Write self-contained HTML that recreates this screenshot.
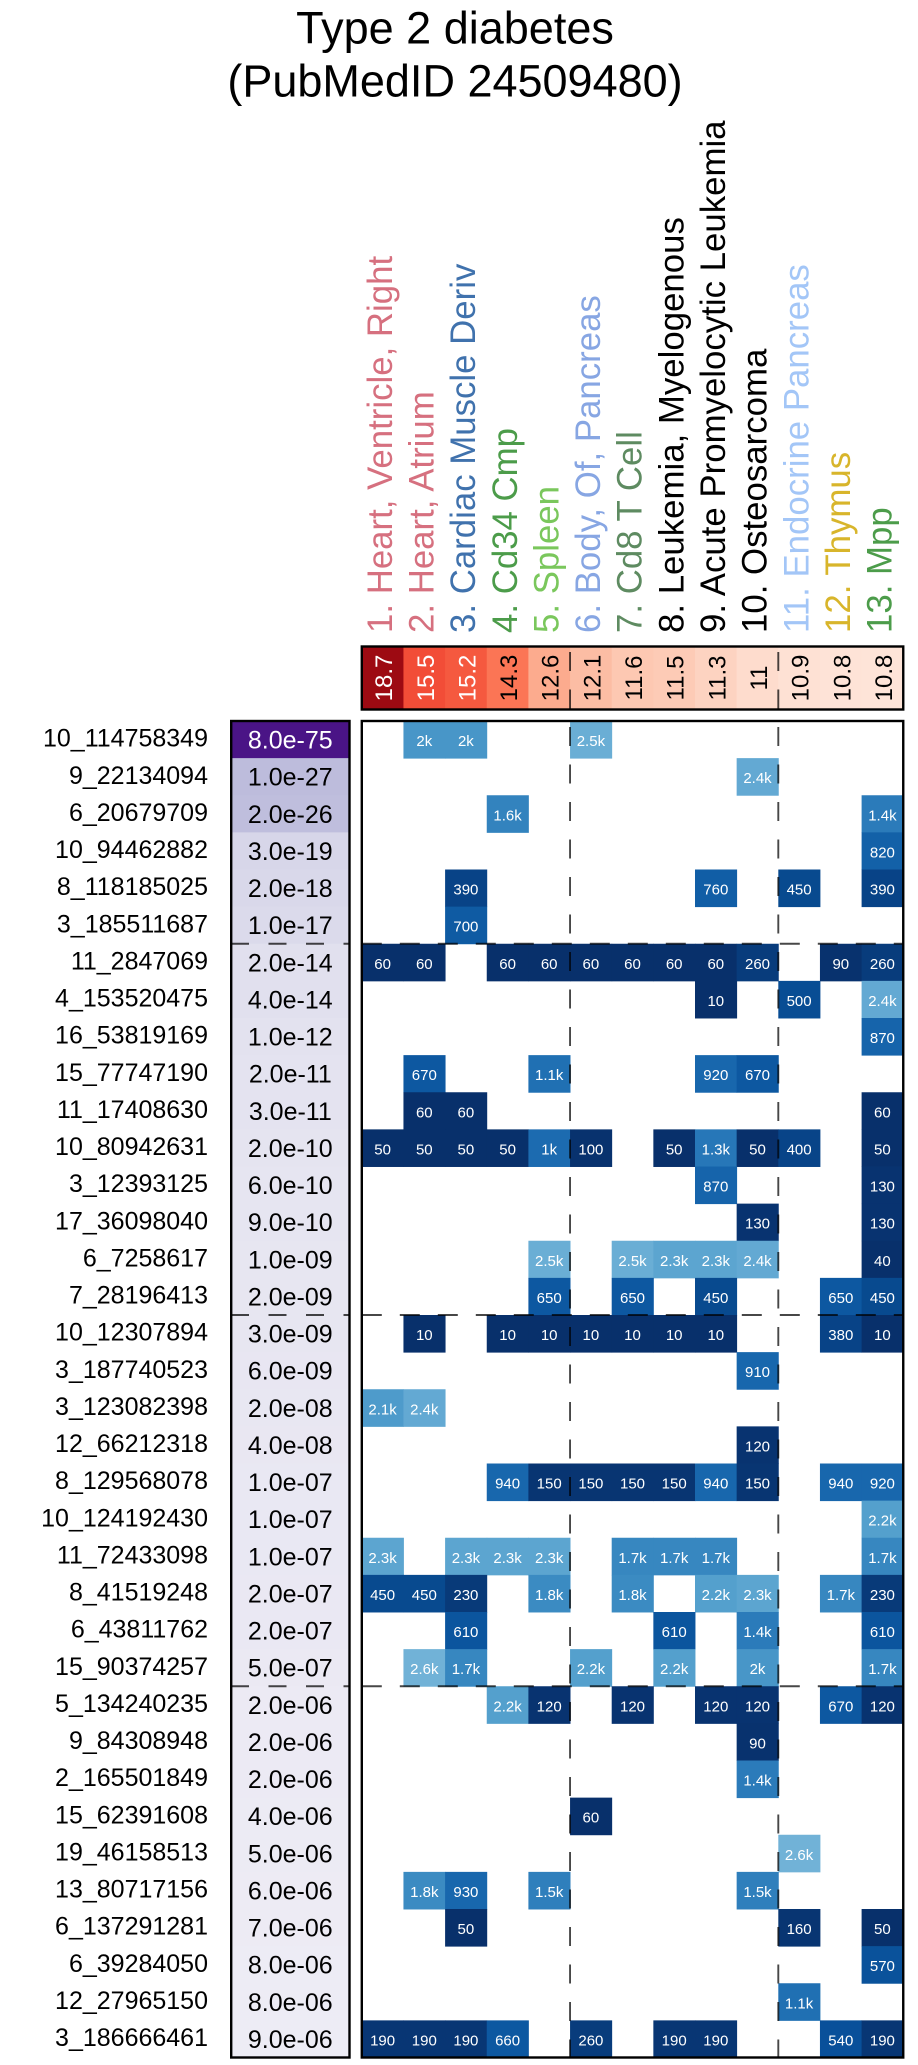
<!DOCTYPE html>
<html><head><meta charset="utf-8"><style>
html,body{margin:0;padding:0;background:#fff;}
svg{display:block;font-family:"Liberation Sans",Arial,sans-serif;}
.rl{font-size:25px;text-anchor:end;fill:#000;}
.pv{font-size:25px;text-anchor:middle;fill:#000;}
.cv{font-size:15px;text-anchor:middle;fill:#fff;}
.hv{font-size:24px;text-anchor:middle;}
.lb{font-size:34.8px;text-anchor:start;}
.tt{font-size:45px;text-anchor:middle;fill:#000;}
</style></head><body>
<svg width="918" height="2065" viewBox="0 0 918 2065" xmlns="http://www.w3.org/2000/svg">
<text class="tt" x="455" y="43.3">Type 2 diabetes</text>
<text class="tt" x="455" y="96.5">(PubMedID 24509480)</text>

<!-- column labels -->
<text class="lb" fill="#d6707f" transform="translate(391.8,633) rotate(-90)">1. Heart, Ventricle, Right</text>
<text class="lb" fill="#d6707f" transform="translate(433.5,633) rotate(-90)">2. Heart, Atrium</text>
<text class="lb" fill="#4072ad" transform="translate(475.1,633) rotate(-90)">3. Cardiac Muscle Deriv</text>
<text class="lb" fill="#4c9c4a" transform="translate(516.8,633) rotate(-90)">4. Cd34 Cmp</text>
<text class="lb" fill="#7ac75c" transform="translate(558.4,633) rotate(-90)">5. Spleen</text>
<text class="lb" fill="#87a6e3" transform="translate(600.1,633) rotate(-90)">6. Body, Of, Pancreas</text>
<text class="lb" fill="#5e8b61" transform="translate(641.7,633) rotate(-90)">7. Cd8 T Cell</text>
<text class="lb" fill="#000" transform="translate(683.4,633) rotate(-90)">8. Leukemia, Myelogenous</text>
<text class="lb" fill="#000" transform="translate(725,633) rotate(-90)">9. Acute Promyelocytic Leukemia</text>
<text class="lb" fill="#000" transform="translate(766.7,633) rotate(-90)">10. Osteosarcoma</text>
<text class="lb" fill="#a3c6f7" transform="translate(808.3,633) rotate(-90)">11. Endocrine Pancreas</text>
<text class="lb" fill="#d8b52b" transform="translate(850,633) rotate(-90)">12. Thymus</text>
<text class="lb" fill="#4c9c4a" transform="translate(891.6,633) rotate(-90)">13. Mpp</text>

<!-- header cells -->
<g transform="translate(0,646.5)">
<rect x="361.8" width="42.1" height="63" fill="#9d0a12"/>
<rect x="403.45" width="42.1" height="63" fill="#f24d37"/>
<rect x="445.1" width="42.1" height="63" fill="#f5593f"/>
<rect x="486.75" width="42.1" height="63" fill="#fb7555"/>
<rect x="528.4" width="42.1" height="63" fill="#fcab8e"/>
<rect x="570.05" width="42.1" height="63" fill="#fcbda4"/>
<rect x="611.7" width="42.1" height="63" fill="#fdc8b2"/>
<rect x="653.35" width="42.1" height="63" fill="#fdcbb6"/>
<rect x="695" width="42.1" height="63" fill="#fdd3c1"/>
<rect x="736.65" width="42.1" height="63" fill="#fedccd"/>
<rect x="778.3" width="42.1" height="63" fill="#fee1d4"/>
<rect x="819.95" width="42.1" height="63" fill="#fee3d7"/>
<rect x="861.6" width="41.65" height="63" fill="#fee4d8"/>
</g>
<text class="hv" fill="#fff" transform="translate(392.1,678) rotate(-90)">18.7</text>
<text class="hv" fill="#fff" transform="translate(433.8,678) rotate(-90)">15.5</text>
<text class="hv" fill="#fff" transform="translate(475.4,678) rotate(-90)">15.2</text>
<text class="hv" fill="#000" transform="translate(517.1,678) rotate(-90)">14.3</text>
<text class="hv" fill="#000" transform="translate(558.7,678) rotate(-90)">12.6</text>
<text class="hv" fill="#000" transform="translate(600.4,678) rotate(-90)">12.1</text>
<text class="hv" fill="#000" transform="translate(642,678) rotate(-90)">11.6</text>
<text class="hv" fill="#000" transform="translate(683.7,678) rotate(-90)">11.5</text>
<text class="hv" fill="#000" transform="translate(725.3,678) rotate(-90)">11.3</text>
<text class="hv" fill="#000" transform="translate(767,678) rotate(-90)">11</text>
<text class="hv" fill="#000" transform="translate(808.6,678) rotate(-90)">10.9</text>
<text class="hv" fill="#000" transform="translate(850.3,678) rotate(-90)">10.8</text>
<text class="hv" fill="#000" transform="translate(891.9,678) rotate(-90)">10.8</text>

<!-- rows -->
<g transform="translate(0,721)">
<text class="rl" x="208" y="25.7">10_114758349</text>
<rect x="231.2" width="118.3" height="37.6" fill="#4a1486"/><text class="pv" x="290.3" y="27.5" style="fill:#fff">8.0e-75</text>
<rect x="403.45" width="42.1" height="37.6" fill="#4896c8"/><text class="cv" x="424.3" y="25">2k</text>
<rect x="445.1" width="42.1" height="37.6" fill="#4896c8"/><text class="cv" x="465.9" y="25">2k</text>
<rect x="570.05" width="42.1" height="37.6" fill="#6aaed5"/><text class="cv" x="590.9" y="25">2.5k</text>
</g>
<g transform="translate(0,758.125)">
<text class="rl" x="208" y="25.7">9_22134094</text>
<rect x="231.2" width="118.3" height="37.6" fill="#bdbcdc"/><text class="pv" x="290.3" y="27.5">1.0e-27</text>
<rect x="736.65" width="42.1" height="37.6" fill="#63a9d3"/><text class="cv" x="757.5" y="25">2.4k</text>
</g>
<g transform="translate(0,795.25)">
<text class="rl" x="208" y="25.7">6_20679709</text>
<rect x="231.2" width="118.3" height="37.6" fill="#bfbedd"/><text class="pv" x="290.3" y="27.5">2.0e-26</text>
<rect x="486.75" width="42.1" height="37.6" fill="#3383be"/><text class="cv" x="507.6" y="25">1.6k</text>
<rect x="861.6" width="42.1" height="37.6" fill="#2b7bba"/><text class="cv" x="882.4" y="25">1.4k</text>
</g>
<g transform="translate(0,832.375)">
<text class="rl" x="208" y="25.7">10_94462882</text>
<rect x="231.2" width="118.3" height="37.6" fill="#d7d6e9"/><text class="pv" x="290.3" y="27.5">3.0e-19</text>
<rect x="861.6" width="42.1" height="37.6" fill="#1361a8"/><text class="cv" x="882.4" y="25">820</text>
</g>
<g transform="translate(0,869.5)">
<text class="rl" x="208" y="25.7">8_118185025</text>
<rect x="231.2" width="118.3" height="37.6" fill="#d9d8ea"/><text class="pv" x="290.3" y="27.5">2.0e-18</text>
<rect x="445.1" width="42.1" height="37.6" fill="#084387"/><text class="cv" x="465.9" y="25">390</text>
<rect x="695" width="42.1" height="37.6" fill="#115ea6"/><text class="cv" x="715.8" y="25">760</text>
<rect x="778.3" width="42.1" height="37.6" fill="#084a8f"/><text class="cv" x="799.1" y="25">450</text>
<rect x="861.6" width="42.1" height="37.6" fill="#084387"/><text class="cv" x="882.4" y="25">390</text>
</g>
<g transform="translate(0,906.625)">
<text class="rl" x="208" y="25.7">3_185511687</text>
<rect x="231.2" width="118.3" height="37.6" fill="#dbdaeb"/><text class="pv" x="290.3" y="27.5">1.0e-17</text>
<rect x="445.1" width="42.1" height="37.6" fill="#0f5ba3"/><text class="cv" x="465.9" y="25">700</text>
</g>
<g transform="translate(0,943.75)">
<text class="rl" x="208" y="25.7">11_2847069</text>
<rect x="231.2" width="118.3" height="37.6" fill="#e1e0ee"/><text class="pv" x="290.3" y="27.5">2.0e-14</text>
<rect x="361.8" width="42.1" height="37.6" fill="#08306b"/><text class="cv" x="382.6" y="25">60</text>
<rect x="403.45" width="42.1" height="37.6" fill="#08306b"/><text class="cv" x="424.3" y="25">60</text>
<rect x="486.75" width="42.1" height="37.6" fill="#08306b"/><text class="cv" x="507.6" y="25">60</text>
<rect x="528.4" width="42.1" height="37.6" fill="#08306b"/><text class="cv" x="549.2" y="25">60</text>
<rect x="570.05" width="42.1" height="37.6" fill="#08306b"/><text class="cv" x="590.9" y="25">60</text>
<rect x="611.7" width="42.1" height="37.6" fill="#08306b"/><text class="cv" x="632.5" y="25">60</text>
<rect x="653.35" width="42.1" height="37.6" fill="#08306b"/><text class="cv" x="674.2" y="25">60</text>
<rect x="695" width="42.1" height="37.6" fill="#08306b"/><text class="cv" x="715.8" y="25">60</text>
<rect x="736.65" width="42.1" height="37.6" fill="#083c7c"/><text class="cv" x="757.5" y="25">260</text>
<rect x="819.95" width="42.1" height="37.6" fill="#08326e"/><text class="cv" x="840.8" y="25">90</text>
<rect x="861.6" width="42.1" height="37.6" fill="#083c7c"/><text class="cv" x="882.4" y="25">260</text>
</g>
<g transform="translate(0,980.875)">
<text class="rl" x="208" y="25.7">4_153520475</text>
<rect x="231.2" width="118.3" height="37.6" fill="#e1e0ee"/><text class="pv" x="290.3" y="27.5">4.0e-14</text>
<rect x="695" width="42.1" height="37.6" fill="#08306b"/><text class="cv" x="715.8" y="25">10</text>
<rect x="778.3" width="42.1" height="37.6" fill="#084d94"/><text class="cv" x="799.1" y="25">500</text>
<rect x="861.6" width="42.1" height="37.6" fill="#63a9d3"/><text class="cv" x="882.4" y="25">2.4k</text>
</g>
<g transform="translate(0,1018)">
<text class="rl" x="208" y="25.7">16_53819169</text>
<rect x="231.2" width="118.3" height="37.6" fill="#e3e2ef"/><text class="pv" x="290.3" y="27.5">1.0e-12</text>
<rect x="861.6" width="42.1" height="37.6" fill="#1664ab"/><text class="cv" x="882.4" y="25">870</text>
</g>
<g transform="translate(0,1055.125)">
<text class="rl" x="208" y="25.7">15_77747190</text>
<rect x="231.2" width="118.3" height="37.6" fill="#e4e3f0"/><text class="pv" x="290.3" y="27.5">2.0e-11</text>
<rect x="403.45" width="42.1" height="37.6" fill="#0d58a1"/><text class="cv" x="424.3" y="25">670</text>
<rect x="528.4" width="42.1" height="37.6" fill="#2070b3"/><text class="cv" x="549.2" y="25">1.1k</text>
<rect x="695" width="42.1" height="37.6" fill="#1867ad"/><text class="cv" x="715.8" y="25">920</text>
<rect x="736.65" width="42.1" height="37.6" fill="#0d58a1"/><text class="cv" x="757.5" y="25">670</text>
</g>
<g transform="translate(0,1092.25)">
<text class="rl" x="208" y="25.7">11_17408630</text>
<rect x="231.2" width="118.3" height="37.6" fill="#e4e3f0"/><text class="pv" x="290.3" y="27.5">3.0e-11</text>
<rect x="403.45" width="42.1" height="37.6" fill="#08306b"/><text class="cv" x="424.3" y="25">60</text>
<rect x="445.1" width="42.1" height="37.6" fill="#08306b"/><text class="cv" x="465.9" y="25">60</text>
<rect x="861.6" width="42.1" height="37.6" fill="#08306b"/><text class="cv" x="882.4" y="25">60</text>
</g>
<g transform="translate(0,1129.375)">
<text class="rl" x="208" y="25.7">10_80942631</text>
<rect x="231.2" width="118.3" height="37.6" fill="#e5e4f0"/><text class="pv" x="290.3" y="27.5">2.0e-10</text>
<rect x="361.8" width="42.1" height="37.6" fill="#08306b"/><text class="cv" x="382.6" y="25">50</text>
<rect x="403.45" width="42.1" height="37.6" fill="#08306b"/><text class="cv" x="424.3" y="25">50</text>
<rect x="445.1" width="42.1" height="37.6" fill="#08306b"/><text class="cv" x="465.9" y="25">50</text>
<rect x="486.75" width="42.1" height="37.6" fill="#08306b"/><text class="cv" x="507.6" y="25">50</text>
<rect x="528.4" width="42.1" height="37.6" fill="#1c6bb0"/><text class="cv" x="549.2" y="25">1k</text>
<rect x="570.05" width="42.1" height="37.6" fill="#08326e"/><text class="cv" x="590.9" y="25">100</text>
<rect x="653.35" width="42.1" height="37.6" fill="#08306b"/><text class="cv" x="674.2" y="25">50</text>
<rect x="695" width="42.1" height="37.6" fill="#2777b8"/><text class="cv" x="715.8" y="25">1.3k</text>
<rect x="736.65" width="42.1" height="37.6" fill="#08306b"/><text class="cv" x="757.5" y="25">50</text>
<rect x="778.3" width="42.1" height="37.6" fill="#084488"/><text class="cv" x="799.1" y="25">400</text>
<rect x="861.6" width="42.1" height="37.6" fill="#08306b"/><text class="cv" x="882.4" y="25">50</text>
</g>
<g transform="translate(0,1166.5)">
<text class="rl" x="208" y="25.7">3_12393125</text>
<rect x="231.2" width="118.3" height="37.6" fill="#e6e5f1"/><text class="pv" x="290.3" y="27.5">6.0e-10</text>
<rect x="695" width="42.1" height="37.6" fill="#1664ab"/><text class="cv" x="715.8" y="25">870</text>
<rect x="861.6" width="42.1" height="37.6" fill="#083370"/><text class="cv" x="882.4" y="25">130</text>
</g>
<g transform="translate(0,1203.625)">
<text class="rl" x="208" y="25.7">17_36098040</text>
<rect x="231.2" width="118.3" height="37.6" fill="#e6e5f1"/><text class="pv" x="290.3" y="27.5">9.0e-10</text>
<rect x="736.65" width="42.1" height="37.6" fill="#083370"/><text class="cv" x="757.5" y="25">130</text>
<rect x="861.6" width="42.1" height="37.6" fill="#083370"/><text class="cv" x="882.4" y="25">130</text>
</g>
<g transform="translate(0,1240.75)">
<text class="rl" x="208" y="25.7">6_7258617</text>
<rect x="231.2" width="118.3" height="37.6" fill="#e7e6f1"/><text class="pv" x="290.3" y="27.5">1.0e-09</text>
<rect x="528.4" width="42.1" height="37.6" fill="#6aaed5"/><text class="cv" x="549.2" y="25">2.5k</text>
<rect x="611.7" width="42.1" height="37.6" fill="#6aaed5"/><text class="cv" x="632.5" y="25">2.5k</text>
<rect x="653.35" width="42.1" height="37.6" fill="#5ca5d0"/><text class="cv" x="674.2" y="25">2.3k</text>
<rect x="695" width="42.1" height="37.6" fill="#5ca5d0"/><text class="cv" x="715.8" y="25">2.3k</text>
<rect x="736.65" width="42.1" height="37.6" fill="#63a9d3"/><text class="cv" x="757.5" y="25">2.4k</text>
<rect x="861.6" width="42.1" height="37.6" fill="#08306b"/><text class="cv" x="882.4" y="25">40</text>
</g>
<g transform="translate(0,1277.875)">
<text class="rl" x="208" y="25.7">7_28196413</text>
<rect x="231.2" width="118.3" height="37.6" fill="#e7e6f1"/><text class="pv" x="290.3" y="27.5">2.0e-09</text>
<rect x="528.4" width="42.1" height="37.6" fill="#0d58a1"/><text class="cv" x="549.2" y="25">650</text>
<rect x="611.7" width="42.1" height="37.6" fill="#0d58a1"/><text class="cv" x="632.5" y="25">650</text>
<rect x="695" width="42.1" height="37.6" fill="#084a8f"/><text class="cv" x="715.8" y="25">450</text>
<rect x="819.95" width="42.1" height="37.6" fill="#0d58a1"/><text class="cv" x="840.8" y="25">650</text>
<rect x="861.6" width="42.1" height="37.6" fill="#084a8f"/><text class="cv" x="882.4" y="25">450</text>
</g>
<g transform="translate(0,1315)">
<text class="rl" x="208" y="25.7">10_12307894</text>
<rect x="231.2" width="118.3" height="37.6" fill="#e7e6f1"/><text class="pv" x="290.3" y="27.5">3.0e-09</text>
<rect x="403.45" width="42.1" height="37.6" fill="#08306b"/><text class="cv" x="424.3" y="25">10</text>
<rect x="486.75" width="42.1" height="37.6" fill="#08306b"/><text class="cv" x="507.6" y="25">10</text>
<rect x="528.4" width="42.1" height="37.6" fill="#08306b"/><text class="cv" x="549.2" y="25">10</text>
<rect x="570.05" width="42.1" height="37.6" fill="#08306b"/><text class="cv" x="590.9" y="25">10</text>
<rect x="611.7" width="42.1" height="37.6" fill="#08306b"/><text class="cv" x="632.5" y="25">10</text>
<rect x="653.35" width="42.1" height="37.6" fill="#08306b"/><text class="cv" x="674.2" y="25">10</text>
<rect x="695" width="42.1" height="37.6" fill="#08306b"/><text class="cv" x="715.8" y="25">10</text>
<rect x="819.95" width="42.1" height="37.6" fill="#084387"/><text class="cv" x="840.8" y="25">380</text>
<rect x="861.6" width="42.1" height="37.6" fill="#08306b"/><text class="cv" x="882.4" y="25">10</text>
</g>
<g transform="translate(0,1352.125)">
<text class="rl" x="208" y="25.7">3_187740523</text>
<rect x="231.2" width="118.3" height="37.6" fill="#e8e6f2"/><text class="pv" x="290.3" y="27.5">6.0e-09</text>
<rect x="736.65" width="42.1" height="37.6" fill="#1867ad"/><text class="cv" x="757.5" y="25">910</text>
</g>
<g transform="translate(0,1389.25)">
<text class="rl" x="208" y="25.7">3_123082398</text>
<rect x="231.2" width="118.3" height="37.6" fill="#e8e7f2"/><text class="pv" x="290.3" y="27.5">2.0e-08</text>
<rect x="361.8" width="42.1" height="37.6" fill="#4e9bcb"/><text class="cv" x="382.6" y="25">2.1k</text>
<rect x="403.45" width="42.1" height="37.6" fill="#63a9d3"/><text class="cv" x="424.3" y="25">2.4k</text>
</g>
<g transform="translate(0,1426.375)">
<text class="rl" x="208" y="25.7">12_66212318</text>
<rect x="231.2" width="118.3" height="37.6" fill="#e9e7f2"/><text class="pv" x="290.3" y="27.5">4.0e-08</text>
<rect x="736.65" width="42.1" height="37.6" fill="#083370"/><text class="cv" x="757.5" y="25">120</text>
</g>
<g transform="translate(0,1463.5)">
<text class="rl" x="208" y="25.7">8_129568078</text>
<rect x="231.2" width="118.3" height="37.6" fill="#e9e8f3"/><text class="pv" x="290.3" y="27.5">1.0e-07</text>
<rect x="486.75" width="42.1" height="37.6" fill="#1867ad"/><text class="cv" x="507.6" y="25">940</text>
<rect x="528.4" width="42.1" height="37.6" fill="#083572"/><text class="cv" x="549.2" y="25">150</text>
<rect x="570.05" width="42.1" height="37.6" fill="#083572"/><text class="cv" x="590.9" y="25">150</text>
<rect x="611.7" width="42.1" height="37.6" fill="#083572"/><text class="cv" x="632.5" y="25">150</text>
<rect x="653.35" width="42.1" height="37.6" fill="#083572"/><text class="cv" x="674.2" y="25">150</text>
<rect x="695" width="42.1" height="37.6" fill="#1867ad"/><text class="cv" x="715.8" y="25">940</text>
<rect x="736.65" width="42.1" height="37.6" fill="#083572"/><text class="cv" x="757.5" y="25">150</text>
<rect x="819.95" width="42.1" height="37.6" fill="#1867ad"/><text class="cv" x="840.8" y="25">940</text>
<rect x="861.6" width="42.1" height="37.6" fill="#1867ad"/><text class="cv" x="882.4" y="25">920</text>
</g>
<g transform="translate(0,1500.625)">
<text class="rl" x="208" y="25.7">10_124192430</text>
<rect x="231.2" width="118.3" height="37.6" fill="#e9e8f3"/><text class="pv" x="290.3" y="27.5">1.0e-07</text>
<rect x="861.6" width="42.1" height="37.6" fill="#54a0cd"/><text class="cv" x="882.4" y="25">2.2k</text>
</g>
<g transform="translate(0,1537.75)">
<text class="rl" x="208" y="25.7">11_72433098</text>
<rect x="231.2" width="118.3" height="37.6" fill="#e9e8f3"/><text class="pv" x="290.3" y="27.5">1.0e-07</text>
<rect x="361.8" width="42.1" height="37.6" fill="#5ca5d0"/><text class="cv" x="382.6" y="25">2.3k</text>
<rect x="445.1" width="42.1" height="37.6" fill="#5ca5d0"/><text class="cv" x="465.9" y="25">2.3k</text>
<rect x="486.75" width="42.1" height="37.6" fill="#5ca5d0"/><text class="cv" x="507.6" y="25">2.3k</text>
<rect x="528.4" width="42.1" height="37.6" fill="#5ca5d0"/><text class="cv" x="549.2" y="25">2.3k</text>
<rect x="611.7" width="42.1" height="37.6" fill="#3787c0"/><text class="cv" x="632.5" y="25">1.7k</text>
<rect x="653.35" width="42.1" height="37.6" fill="#3787c0"/><text class="cv" x="674.2" y="25">1.7k</text>
<rect x="695" width="42.1" height="37.6" fill="#3787c0"/><text class="cv" x="715.8" y="25">1.7k</text>
<rect x="861.6" width="42.1" height="37.6" fill="#3787c0"/><text class="cv" x="882.4" y="25">1.7k</text>
</g>
<g transform="translate(0,1574.875)">
<text class="rl" x="208" y="25.7">8_41519248</text>
<rect x="231.2" width="118.3" height="37.6" fill="#eae8f3"/><text class="pv" x="290.3" y="27.5">2.0e-07</text>
<rect x="361.8" width="42.1" height="37.6" fill="#084a8f"/><text class="cv" x="382.6" y="25">450</text>
<rect x="403.45" width="42.1" height="37.6" fill="#084a8f"/><text class="cv" x="424.3" y="25">450</text>
<rect x="445.1" width="42.1" height="37.6" fill="#083a79"/><text class="cv" x="465.9" y="25">230</text>
<rect x="528.4" width="42.1" height="37.6" fill="#3b8bc2"/><text class="cv" x="549.2" y="25">1.8k</text>
<rect x="611.7" width="42.1" height="37.6" fill="#3b8bc2"/><text class="cv" x="632.5" y="25">1.8k</text>
<rect x="695" width="42.1" height="37.6" fill="#54a0cd"/><text class="cv" x="715.8" y="25">2.2k</text>
<rect x="736.65" width="42.1" height="37.6" fill="#5ca5d0"/><text class="cv" x="757.5" y="25">2.3k</text>
<rect x="819.95" width="42.1" height="37.6" fill="#3787c0"/><text class="cv" x="840.8" y="25">1.7k</text>
<rect x="861.6" width="42.1" height="37.6" fill="#083a79"/><text class="cv" x="882.4" y="25">230</text>
</g>
<g transform="translate(0,1612)">
<text class="rl" x="208" y="25.7">6_43811762</text>
<rect x="231.2" width="118.3" height="37.6" fill="#eae8f3"/><text class="pv" x="290.3" y="27.5">2.0e-07</text>
<rect x="445.1" width="42.1" height="37.6" fill="#0b559e"/><text class="cv" x="465.9" y="25">610</text>
<rect x="653.35" width="42.1" height="37.6" fill="#0b559e"/><text class="cv" x="674.2" y="25">610</text>
<rect x="736.65" width="42.1" height="37.6" fill="#2b7bba"/><text class="cv" x="757.5" y="25">1.4k</text>
<rect x="861.6" width="42.1" height="37.6" fill="#0b559e"/><text class="cv" x="882.4" y="25">610</text>
</g>
<g transform="translate(0,1649.125)">
<text class="rl" x="208" y="25.7">15_90374257</text>
<rect x="231.2" width="118.3" height="37.6" fill="#ebe9f3"/><text class="pv" x="290.3" y="27.5">5.0e-07</text>
<rect x="403.45" width="42.1" height="37.6" fill="#71b2d7"/><text class="cv" x="424.3" y="25">2.6k</text>
<rect x="445.1" width="42.1" height="37.6" fill="#3787c0"/><text class="cv" x="465.9" y="25">1.7k</text>
<rect x="570.05" width="42.1" height="37.6" fill="#54a0cd"/><text class="cv" x="590.9" y="25">2.2k</text>
<rect x="653.35" width="42.1" height="37.6" fill="#54a0cd"/><text class="cv" x="674.2" y="25">2.2k</text>
<rect x="736.65" width="42.1" height="37.6" fill="#4896c8"/><text class="cv" x="757.5" y="25">2k</text>
<rect x="861.6" width="42.1" height="37.6" fill="#3787c0"/><text class="cv" x="882.4" y="25">1.7k</text>
</g>
<g transform="translate(0,1686.25)">
<text class="rl" x="208" y="25.7">5_134240235</text>
<rect x="231.2" width="118.3" height="37.6" fill="#eceaf4"/><text class="pv" x="290.3" y="27.5">2.0e-06</text>
<rect x="486.75" width="42.1" height="37.6" fill="#54a0cd"/><text class="cv" x="507.6" y="25">2.2k</text>
<rect x="528.4" width="42.1" height="37.6" fill="#083370"/><text class="cv" x="549.2" y="25">120</text>
<rect x="611.7" width="42.1" height="37.6" fill="#083370"/><text class="cv" x="632.5" y="25">120</text>
<rect x="695" width="42.1" height="37.6" fill="#083370"/><text class="cv" x="715.8" y="25">120</text>
<rect x="736.65" width="42.1" height="37.6" fill="#083370"/><text class="cv" x="757.5" y="25">120</text>
<rect x="819.95" width="42.1" height="37.6" fill="#0d58a1"/><text class="cv" x="840.8" y="25">670</text>
<rect x="861.6" width="42.1" height="37.6" fill="#083370"/><text class="cv" x="882.4" y="25">120</text>
</g>
<g transform="translate(0,1723.375)">
<text class="rl" x="208" y="25.7">9_84308948</text>
<rect x="231.2" width="118.3" height="37.6" fill="#eceaf4"/><text class="pv" x="290.3" y="27.5">2.0e-06</text>
<rect x="736.65" width="42.1" height="37.6" fill="#08326e"/><text class="cv" x="757.5" y="25">90</text>
</g>
<g transform="translate(0,1760.5)">
<text class="rl" x="208" y="25.7">2_165501849</text>
<rect x="231.2" width="118.3" height="37.6" fill="#eceaf4"/><text class="pv" x="290.3" y="27.5">2.0e-06</text>
<rect x="736.65" width="42.1" height="37.6" fill="#2b7bba"/><text class="cv" x="757.5" y="25">1.4k</text>
</g>
<g transform="translate(0,1797.625)">
<text class="rl" x="208" y="25.7">15_62391608</text>
<rect x="231.2" width="118.3" height="37.6" fill="#ecebf4"/><text class="pv" x="290.3" y="27.5">4.0e-06</text>
<rect x="570.05" width="42.1" height="37.6" fill="#08306b"/><text class="cv" x="590.9" y="25">60</text>
</g>
<g transform="translate(0,1834.75)">
<text class="rl" x="208" y="25.7">19_46158513</text>
<rect x="231.2" width="118.3" height="37.6" fill="#ecebf4"/><text class="pv" x="290.3" y="27.5">5.0e-06</text>
<rect x="778.3" width="42.1" height="37.6" fill="#71b2d7"/><text class="cv" x="799.1" y="25">2.6k</text>
</g>
<g transform="translate(0,1871.875)">
<text class="rl" x="208" y="25.7">13_80717156</text>
<rect x="231.2" width="118.3" height="37.6" fill="#edebf4"/><text class="pv" x="290.3" y="27.5">6.0e-06</text>
<rect x="403.45" width="42.1" height="37.6" fill="#3b8bc2"/><text class="cv" x="424.3" y="25">1.8k</text>
<rect x="445.1" width="42.1" height="37.6" fill="#1867ad"/><text class="cv" x="465.9" y="25">930</text>
<rect x="528.4" width="42.1" height="37.6" fill="#2f7fbc"/><text class="cv" x="549.2" y="25">1.5k</text>
<rect x="736.65" width="42.1" height="37.6" fill="#2f7fbc"/><text class="cv" x="757.5" y="25">1.5k</text>
</g>
<g transform="translate(0,1909)">
<text class="rl" x="208" y="25.7">6_137291281</text>
<rect x="231.2" width="118.3" height="37.6" fill="#edebf4"/><text class="pv" x="290.3" y="27.5">7.0e-06</text>
<rect x="445.1" width="42.1" height="37.6" fill="#08306b"/><text class="cv" x="465.9" y="25">50</text>
<rect x="778.3" width="42.1" height="37.6" fill="#083572"/><text class="cv" x="799.1" y="25">160</text>
<rect x="861.6" width="42.1" height="37.6" fill="#08306b"/><text class="cv" x="882.4" y="25">50</text>
</g>
<g transform="translate(0,1946.125)">
<text class="rl" x="208" y="25.7">6_39284050</text>
<rect x="231.2" width="118.3" height="37.6" fill="#edecf5"/><text class="pv" x="290.3" y="27.5">8.0e-06</text>
<rect x="861.6" width="42.1" height="37.6" fill="#0a529b"/><text class="cv" x="882.4" y="25">570</text>
</g>
<g transform="translate(0,1983.25)">
<text class="rl" x="208" y="25.7">12_27965150</text>
<rect x="231.2" width="118.3" height="37.6" fill="#edecf5"/><text class="pv" x="290.3" y="27.5">8.0e-06</text>
<rect x="778.3" width="42.1" height="37.6" fill="#2070b3"/><text class="cv" x="799.1" y="25">1.1k</text>
</g>
<g transform="translate(0,2020.375)">
<text class="rl" x="208" y="25.7">3_186666461</text>
<rect x="231.2" width="118.3" height="37.1" fill="#edecf5"/><text class="pv" x="290.3" y="27.5">9.0e-06</text>
<rect x="361.8" width="42.1" height="37.1" fill="#083674"/><text class="cv" x="382.6" y="25">190</text>
<rect x="403.45" width="42.1" height="37.1" fill="#083674"/><text class="cv" x="424.3" y="25">190</text>
<rect x="445.1" width="42.1" height="37.1" fill="#083674"/><text class="cv" x="465.9" y="25">190</text>
<rect x="486.75" width="42.1" height="37.1" fill="#0d58a1"/><text class="cv" x="507.6" y="25">660</text>
<rect x="570.05" width="42.1" height="37.1" fill="#083c7c"/><text class="cv" x="590.9" y="25">260</text>
<rect x="653.35" width="42.1" height="37.1" fill="#083674"/><text class="cv" x="674.2" y="25">190</text>
<rect x="695" width="42.1" height="37.1" fill="#083674"/><text class="cv" x="715.8" y="25">190</text>
<rect x="819.95" width="42.1" height="37.1" fill="#09509a"/><text class="cv" x="840.8" y="25">540</text>
<rect x="861.6" width="42.1" height="37.1" fill="#083674"/><text class="cv" x="882.4" y="25">190</text>
</g>

<!-- dashed separators -->
<g stroke="#000" stroke-opacity="0.72" stroke-width="1.9" fill="none">
<line x1="570.05" y1="652" x2="570.05" y2="2057.5" stroke-dasharray="19 18.5"/>
<line x1="778.3" y1="652" x2="778.3" y2="2057.5" stroke-dasharray="19 18.5"/>
<line x1="231" y1="943.75" x2="349.5" y2="943.75" stroke-dasharray="18 19.5"/>
<line x1="231" y1="1315" x2="349.5" y2="1315" stroke-dasharray="18 19.5"/>
<line x1="231" y1="1686.25" x2="349.5" y2="1686.25" stroke-dasharray="18 19.5"/>
<line x1="361.8" y1="943.75" x2="903.25" y2="943.75" stroke-dasharray="20 18"/>
<line x1="361.8" y1="1315" x2="903.25" y2="1315" stroke-dasharray="20 18"/>
<line x1="361.8" y1="1686.25" x2="903.25" y2="1686.25" stroke-dasharray="20 18"/>
</g>

<!-- borders -->
<g stroke="#000" stroke-width="2.4" fill="none">
<rect x="361.8" y="646.5" width="541.45" height="63"/>
<rect x="231.2" y="721" width="118.3" height="1336.5"/>
<rect x="361.8" y="721" width="541.45" height="1336.5"/>
</g>
</svg>
</body></html>
